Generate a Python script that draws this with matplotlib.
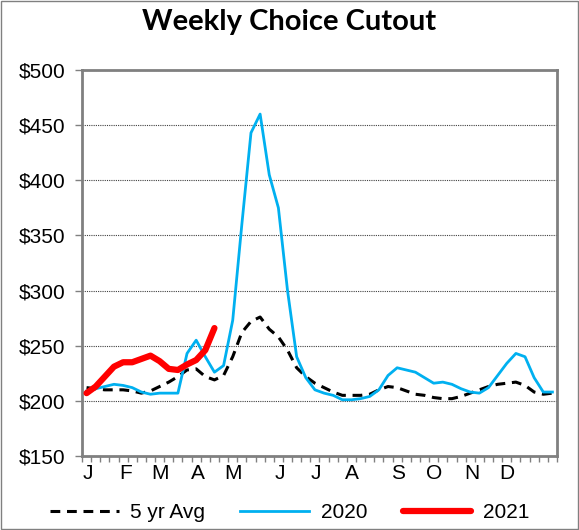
import matplotlib
matplotlib.use('Agg')
import matplotlib.pyplot as plt
from matplotlib.patches import Rectangle

# weekly prices ($/cwt), week 1..52
weeks = list(range(1, 53))
avg_5yr = [212, 211, 210, 210, 210, 209, 207, 209, 213, 217, 222, 228, 229, 222, 219, 223,
           240, 262, 272, 276, 265, 258, 246, 230, 222, 216, 212, 208, 205, 205, 205, 206,
           210, 213, 212, 209, 206, 205, 203, 202, 202, 204, 207, 210, 213, 215, 216, 217,
           214, 208, 206, 207]
y2020 = [209, 211, 213, 215, 214, 212, 208, 206, 207, 207, 207, 243, 255, 240, 226, 232,
         273, 360, 443, 460, 405, 375, 300, 240, 221, 210, 207, 205, 201, 201, 202, 204,
         210, 223, 230, 228, 226, 221, 216, 217, 215, 211, 208, 207, 212, 223, 234, 243,
         240, 221, 208, 208]
y2021 = [207, 213, 222, 231, 235, 235, 238, 241, 236, 229, 228, 233, 237, 246, 266]

month_labels = ['J', 'F', 'M', 'A', 'M', 'J', 'J', 'A', 'S', 'O', 'N', 'D']
month_pos = [1.1, 5.3, 9.0, 13.2, 17.0, 22.2, 26.1, 30.1, 35.1, 39.1, 43.2, 47.0]
y_ticks = [150, 200, 250, 300, 350, 400, 450, 500]

plt.rcParams['font.family'] = ['Liberation Sans', 'DejaVu Sans']

fig = plt.figure(figsize=(5.79, 5.30), dpi=100)
ax = fig.add_axes([0.1416, 0.1396, 0.8204, 0.7284])

ax.plot(weeks, avg_5yr, color='black', lw=2.2, linestyle=(0, (3.2, 2.2)), label='5 yr Avg', zorder=3)
ax.plot(weeks, y2020, color='#00B0F0', lw=2.0, label='2020', zorder=4)
ax.plot(weeks[:len(y2021)], y2021, color='#FF0000', lw=4.5, label='2021',
        solid_capstyle='round', zorder=5)

ax.set_xlim(0.5, 52.5)
ax.set_ylim(150, 500)
ax.set_yticks(y_ticks)
ax.set_yticklabels(['${}'.format(v) for v in y_ticks], fontsize=15)
ax.yaxis.grid(True, linestyle=(0, (1, 1)), color='#404040', lw=0.8)
ax.set_axisbelow(True)

ax.set_xticks([w + 0.5 for w in range(0, 53)], minor=True)
ax.set_xticks(month_pos)
ax.set_xticklabels(month_labels, fontsize=15)
ax.tick_params(axis='x', which='major', length=0, pad=6)
ax.tick_params(axis='x', which='minor', length=4, width=1, color='#808080', direction='out')
ax.tick_params(axis='y', length=5, width=1, color='#808080', direction='out', pad=7)

for s in ax.spines.values():
    s.set_color('#808080')
    s.set_linewidth(2)

fig.text(0.5, 0.958, 'Weekly Choice Cutout', ha='center', va='center',
         fontsize=21, fontweight='bold', family=['Lato', 'DejaVu Sans'])

fig.legend(loc='center', bbox_to_anchor=(0.5, 0.033), ncol=3, frameon=False,
           fontsize=15, handlelength=3.3, columnspacing=1.7, handletextpad=0.55)

fig.patches.append(Rectangle((0.002, 0.002), 0.996, 0.996, transform=fig.transFigure,
                             fill=False, edgecolor='#808080', lw=1))

fig.savefig('out.png', dpi=100)
